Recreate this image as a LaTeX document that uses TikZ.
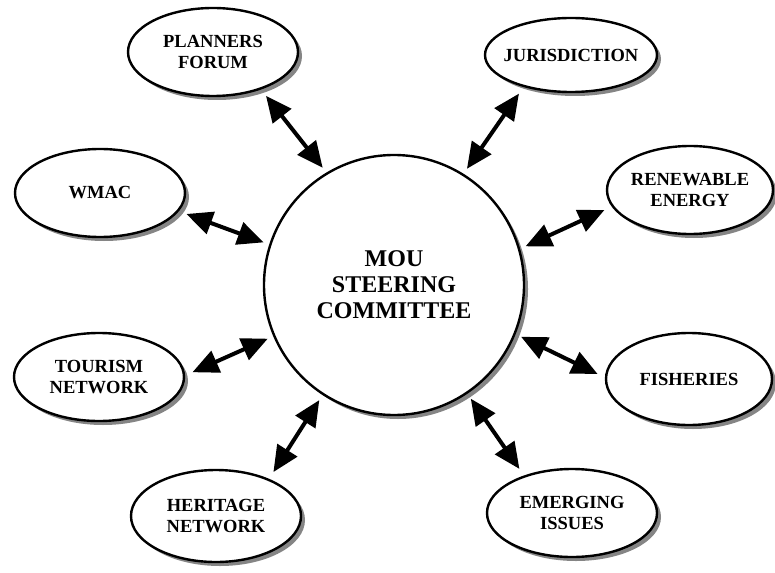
\documentclass[tikz,border=0pt]{standalone}
\usepackage{fontspec}
\setmainfont{Liberation Serif}
\usepackage{tikz}
\usetikzlibrary{arrows.meta}
\usetikzlibrary{shapes.geometric}
\usetikzlibrary{shadows}
\tikzset{topic/.style={draw,ellipse,line width=2.4pt,fill=white,inner xsep=-20pt,inner ysep=0pt,
           minimum width=170pt,minimum height=88pt,align=center,
           font=\bfseries\fontsize{18.5}{20.5}\selectfont,
           drop shadow={shadow xshift=4pt,shadow yshift=-4pt,opacity=.8,fill=black!60}},
         hub/.style={draw,circle,line width=2.4pt,fill=white,minimum size=260pt,align=center,
           font=\bfseries\fontsize{24}{26}\selectfont,
           drop shadow={shadow xshift=4pt,shadow yshift=-4pt,opacity=.8,fill=black!60}},
         link/.style={{Triangle[length=26pt,width=23pt]}-{Triangle[length=26pt,width=23pt]},
           line width=4pt,shorten <=8pt,shorten >=6pt}}

\begin{document}
\begin{tikzpicture}[x=1pt,y=-1pt]
\useasboundingbox (0,0) rectangle (775,572);
\node[hub] (mou) at (394,285) {MOU\\STEERING\\COMMITTEE};
\node[topic] (planners) at (213,52) {PLANNERS\\FORUM};
\node[topic,minimum width=172pt,minimum height=74pt] (jurisdiction) at (571,55) {JURISDICTION};
\node[topic,minimum width=166pt] (renewable) at (690,190) {RENEWABLE\\ENERGY};
\node[topic] (wmac) at (100,193) {WMAC};
\node[topic] (tourism) at (99,377) {TOURISM\\NETWORK};
\node[topic,minimum width=166pt,minimum height=92pt] (fisheries) at (689,379) {FISHERIES};
\node[topic] (emerging) at (572,513) {EMERGING\\ISSUES};
\node[topic,minimum height=92pt] (heritage) at (216,516) {HERITAGE\\NETWORK};
% links to the committee
\foreach \a/\p/\q in {planners/322/121, jurisdiction/214/58, renewable/192/16,
                      wmac/347/162, tourism/1/203, fisheries/179/338,
                      emerging/142/304, heritage/35/237}
  \draw[link] (\a.\p) -- (mou.\q);
\end{tikzpicture}
\end{document}
